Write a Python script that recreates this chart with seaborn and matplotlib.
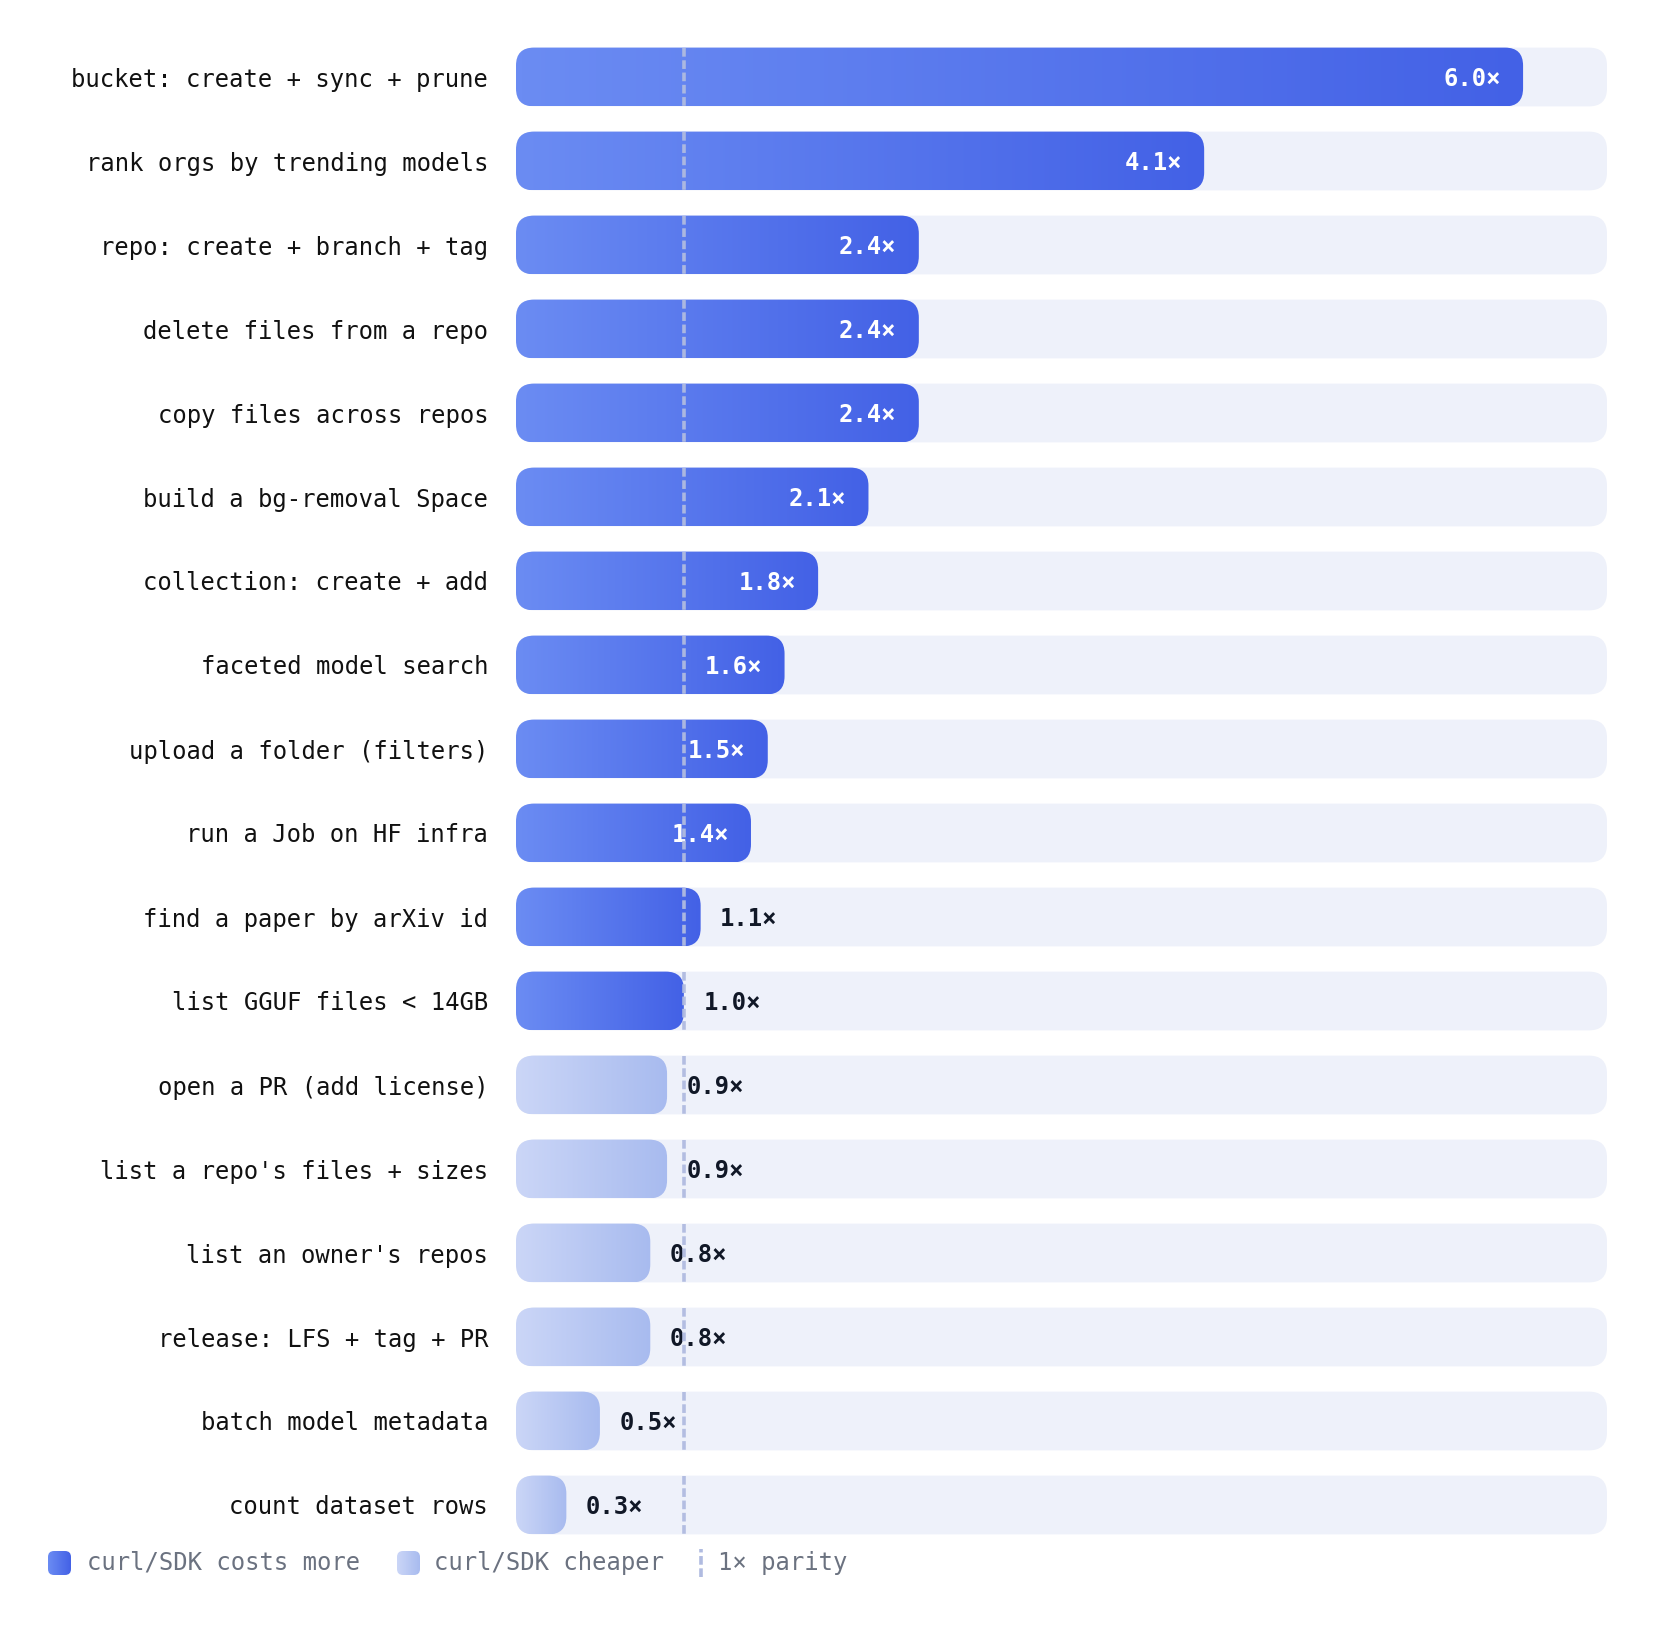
import numpy as np
import pandas as pd
import matplotlib
matplotlib.use("Agg")
import matplotlib.pyplot as plt
import seaborn as sns
from matplotlib.patches import FancyBboxPatch
from matplotlib.colors import LinearSegmentedColormap

tasks = [
    "bucket: create + sync + prune",
    "rank orgs by trending models",
    "repo: create + branch + tag",
    "delete files from a repo",
    "copy files across repos",
    "build a bg-removal Space",
    "collection: create + add",
    "faceted model search",
    "upload a folder (filters)",
    "run a Job on HF infra",
    "find a paper by arXiv id",
    "list GGUF files < 14GB",
    "open a PR (add license)",
    "list a repo's files + sizes",
    "list an owner's repos",
    "release: LFS + tag + PR",
    "batch model metadata",
    "count dataset rows",
]
ratios = [6.0, 4.1, 2.4, 2.4, 2.4, 2.1, 1.8, 1.6, 1.5, 1.4, 1.1, 1.0, 0.9, 0.9, 0.8, 0.8, 0.5, 0.3]
legend_labels = ["curl/SDK costs more", "curl/SDK cheaper", "1× parity"]

df = pd.DataFrame({"task": tasks, "ratio": ratios})

sns.set_theme(style="white")
plt.rcParams["font.family"] = ["DejaVu Sans Mono", "DejaVu Sans"]

W, H = 1656, 1629
fig = plt.figure(figsize=(W / 100, H / 100), dpi=100)
ax = fig.add_axes([516 / W, 82 / H, 1091 / W, 1512 / H])

sns.barplot(data=df, x="ratio", y="task", orient="h", width=0.70,
            color="#4361e6", ax=ax, errorbar=None)

xmax = 6.5
ax.set_xlim(0, xmax)
ax.set_ylim(len(tasks) - 0.5, -0.5)

dark_cmap = LinearSegmentedColormap.from_list("dark", ["#6b8cf3", "#4361e6"])
light_cmap = LinearSegmentedColormap.from_list("light", ["#cbd6f7", "#a8bbef"])
grad = np.linspace(0, 1, 256).reshape(1, -1)

px_x = 1091 / xmax
rad = 18
r_x = rad / px_x
aspect = (rad / 84) / r_x
box = f"round,pad=0,rounding_size={r_x}"

for patch, v in zip(list(ax.patches), ratios):
    x0, y0 = patch.get_x(), patch.get_y()
    w, h = patch.get_width(), patch.get_height()
    patch.set_visible(False)
    track = FancyBboxPatch((0, y0), xmax, h, boxstyle=box, mutation_aspect=aspect,
                           fc="#eef1fa", ec="none", zorder=1)
    ax.add_patch(track)
    bar = FancyBboxPatch((0, y0), w, h, boxstyle=box, mutation_aspect=aspect,
                         fc="none", ec="none", zorder=2)
    ax.add_patch(bar)
    cmap = dark_cmap if v >= 1.0 else light_cmap
    im = ax.imshow(grad, cmap=cmap, extent=(0, w, y0 + h, y0), aspect="auto",
                   interpolation="bicubic", zorder=2)
    im.set_clip_path(bar)
    yc = y0 + h / 2
    lab = f"{v:.1f}×"
    if v >= 1.3:
        ax.annotate(lab, xy=(w, yc), xytext=(-16, 0), textcoords="offset points",
                    ha="right", va="center_baseline", color="white", fontweight="bold",
                    fontsize=17.2, zorder=4)
    else:
        ax.annotate(lab, xy=(w, yc), xytext=(14, 0), textcoords="offset points",
                    ha="left", va="center_baseline", color="#111827", fontweight="bold",
                    fontsize=17.2, zorder=4)
    ax.plot([1, 1], [y0, y0 + h], ls=(0, (2.4, 1.0)), lw=2.6, color="#b0bbe0",
            alpha=0.95, zorder=6, dash_capstyle="butt")

ax.set_xlim(0, xmax)
ax.set_ylim(len(tasks) - 0.5, -0.5)
ax.set_xlabel("")
ax.set_ylabel("")
ax.set_xticks([])
ax.tick_params(axis="y", length=0, pad=20, labelsize=17.2, labelcolor="#111111")
sns.despine(ax=ax, left=True, bottom=True)

# legend row in pixel units
leg = fig.add_axes([0, 0, 1, 130 / H])
leg.set_xlim(0, W)
leg.set_ylim(0, 130)
leg.axis("off")
yc = 66
sw_box = "round,pad=0,rounding_size=6"
for x, cmap, text, tx in [(48, dark_cmap, legend_labels[0], 87),
                          (397, light_cmap, legend_labels[1], 434)]:
    sw = FancyBboxPatch((x, yc - 12), 23, 24, boxstyle=sw_box, fc="none", ec="none")
    leg.add_patch(sw)
    im = leg.imshow(grad, cmap=cmap, extent=(x, x + 23, yc - 12, yc + 12),
                    aspect="auto", interpolation="bicubic")
    im.set_clip_path(sw)
    leg.text(tx, yc, text, ha="left", va="center", color="#6b7280", fontsize=17.2)
leg.plot([701, 701], [yc - 14, yc + 14], ls=(0, (2.4, 1.0)), lw=2.6, color="#b0bbe0")
leg.text(718, yc, legend_labels[2], ha="left", va="center", color="#6b7280",
         fontsize=17.2)
leg.set_xlim(0, W)
leg.set_ylim(0, 130)

fig.savefig("out.png", dpi=100, facecolor="white")
